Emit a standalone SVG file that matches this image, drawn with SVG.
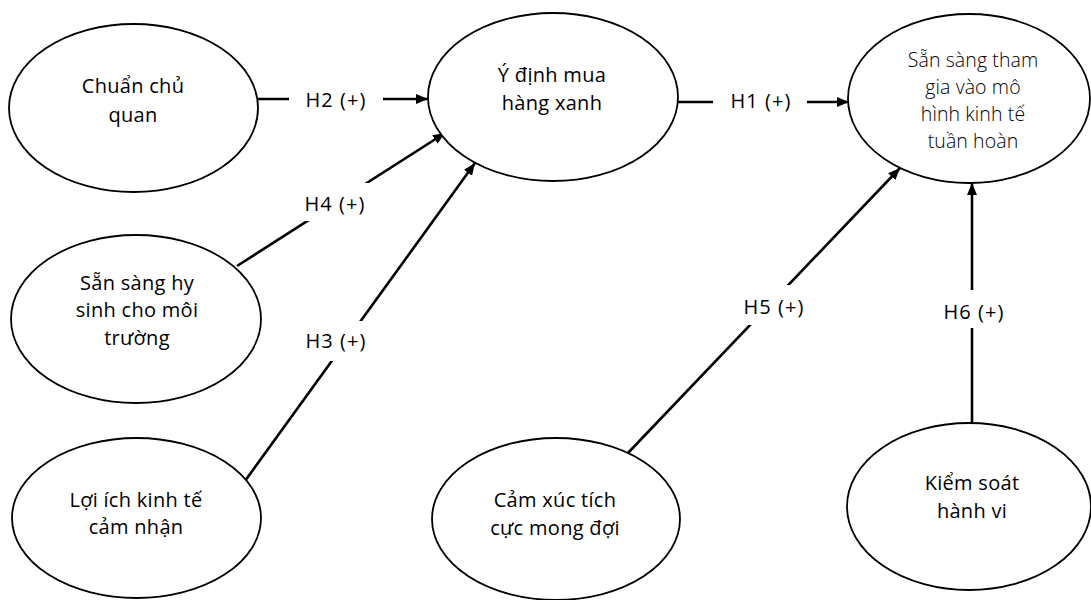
<svg xmlns="http://www.w3.org/2000/svg" width="1091" height="600" viewBox="0 0 1091 600">
<style>
.node ellipse{fill:#fff;stroke:#000;stroke-width:1.8}
.node text{font-family:"Open Sans","Liberation Sans",sans-serif;font-size:20px;fill:#000;text-anchor:middle;letter-spacing:0.3px}
.node text.light{font-weight:300;font-size:19.5px;letter-spacing:0.1px}
.conn line{stroke:#000;stroke-width:2.6;marker-end:url(#arr)}
.lbl rect{fill:#fff;stroke:none}
.lbl text{font-family:"Open Sans","Liberation Sans",sans-serif;font-size:20px;fill:#000;text-anchor:middle;letter-spacing:1.1px}
</style>
<defs>
<marker id="arr" markerUnits="userSpaceOnUse" markerWidth="13" markerHeight="11" refX="12" refY="5" orient="auto">
<path d="M0,0 L12,5 L0,10 z" fill="#000"/>
</marker>
</defs>
<rect width="1091" height="600" fill="#fff"/>
<g id="connectors" class="conn">
<line x1="258" y1="99" x2="428" y2="99"/>
<line x1="678" y1="102" x2="849" y2="102"/>
<line x1="237" y1="266" x2="445" y2="133"/>
<line x1="245" y1="481" x2="475" y2="163"/>
<line x1="627" y1="454" x2="900" y2="168"/>
<line x1="972" y1="422" x2="972" y2="183"/>
</g>
<g id="labels" class="lbl">
<g id="lbl-h2"><rect x="289" y="80" width="94" height="35"/><text x="336" y="107">H2 (+)</text></g>
<g id="lbl-h1"><rect x="713" y="80" width="94" height="37"/><text x="761" y="108">H1 (+)</text></g>
<g id="lbl-h4"><rect x="290" y="183" width="91" height="38"/><text x="335" y="211">H4 (+)</text></g>
<g id="lbl-h3"><rect x="290" y="321" width="92" height="40"/><text x="336" y="348">H3 (+)</text></g>
<g id="lbl-h5"><rect x="727" y="285" width="93" height="40"/><text x="774" y="314">H5 (+)</text></g>
<g id="lbl-h6"><rect x="928" y="290" width="91" height="38"/><text x="974" y="319">H6 (+)</text></g>
</g>
<g id="n-chuan-chu-quan" class="node">
<ellipse cx="133.5" cy="108" rx="124.5" ry="84"/>
<text x="133" y="93">Chuẩn chủ</text>
<text x="133" y="122">quan</text>
</g>
<g id="n-y-dinh-mua" class="node">
<ellipse cx="553" cy="97" rx="125" ry="84"/>
<text x="552" y="82">Ý định mua</text>
<text x="552" y="110">hàng xanh</text>
</g>
<g id="n-san-sang-tham-gia" class="node">
<ellipse cx="969" cy="98.5" rx="121" ry="84.5"/>
<text class="light" x="973" y="67">Sẵn sàng tham</text>
<text class="light" x="973" y="94">gia vào mô</text>
<text class="light" x="973" y="121">hình kinh tế</text>
<text class="light" x="973" y="148">tuần hoàn</text>
</g>
<g id="n-san-sang-hy-sinh" class="node">
<ellipse cx="136" cy="319" rx="125" ry="84"/>
<text x="137" y="290">Sẵn sàng hy</text>
<text x="137" y="317">sinh cho môi</text>
<text x="137" y="345">trường</text>
</g>
<g id="n-loi-ich-kinh-te" class="node">
<ellipse cx="136.5" cy="518" rx="124.5" ry="80"/>
<text x="136" y="507">Lợi ích kinh tế</text>
<text x="136" y="534">cảm nhận</text>
</g>
<g id="n-cam-xuc" class="node">
<ellipse cx="556" cy="519" rx="124" ry="81"/>
<text x="555" y="507">Cảm xúc tích</text>
<text x="555" y="535">cực mong đợi</text>
</g>
<g id="n-kiem-soat" class="node">
<ellipse cx="969" cy="506.5" rx="122" ry="83.5"/>
<text x="972" y="490">Kiểm soát</text>
<text x="972" y="518">hành vi</text>
</g>
</svg>
